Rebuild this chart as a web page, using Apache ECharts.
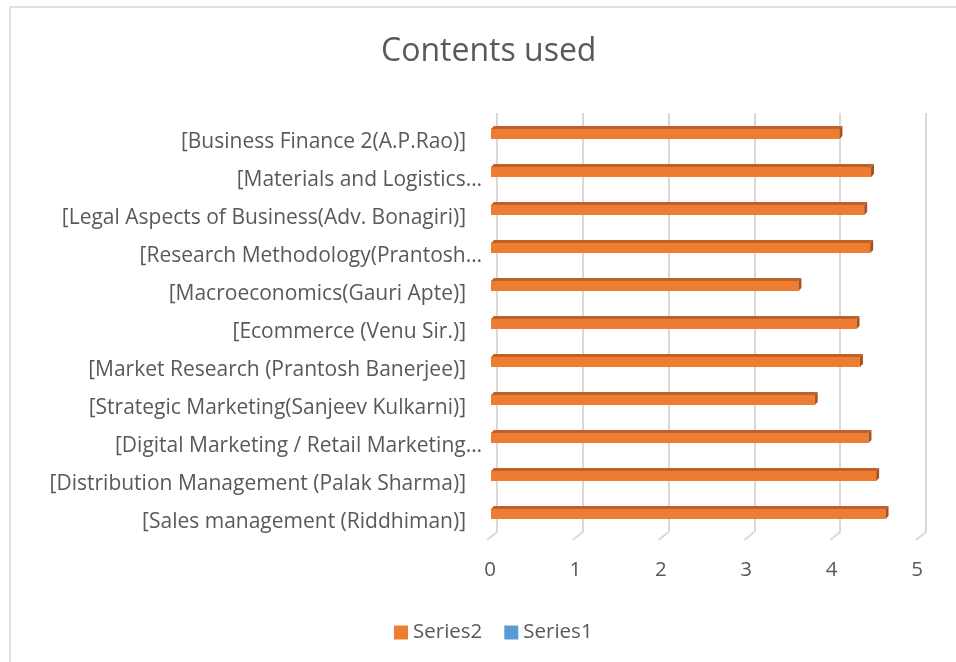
<!DOCTYPE html>
<html>
<head>
<meta charset="utf-8">
<script src="https://cdn.jsdelivr.net/npm/echarts@6/dist/echarts.min.js"></script>
<style>
  html, body { margin: 0; padding: 0; background: #fff; }
  #main { width: 956px; height: 662px; }
</style>
</head>
<body>
<div id="main"></div>
<script>
// categories, bottom to top (same order as the Excel sheet)
var courses = [
  '[Sales management (Riddhiman)]',
  '[Distribution Management (Palak Sharma)]',
  '[Digital Marketing / Retail Marketing…',
  '[Strategic Marketing(Sanjeev Kulkarni)]',
  '[Market Research (Prantosh Banerjee)]',
  '[Ecommerce (Venu Sir.)]',
  '[Macroeconomics(Gauri Apte)]',
  '[Research Methodology(Prantosh…',
  '[Legal Aspects of Business(Adv. Bonagiri)]',
  '[Materials and Logistics…',
  '[Business Finance 2(A.P.Rao)]'
];
var series2 = [4.62, 4.51, 4.42, 3.79, 4.32, 4.28, 3.60, 4.44, 4.37, 4.45, 4.08];
var series1 = [0, 0, 0, 0, 0, 0, 0, 0, 0, 0, 0];
var xTicks = [0, 1, 2, 3, 4, 5];

var txt = '#595959';
var font = '"Open Sans"';
var fs = 20.5;

var chart = echarts.init(document.getElementById('main'), null, { renderer: 'canvas' });

// bar with a little depth, like excel's 3d bars
function bar3d(params, api) {
  var v = api.value(0);
  var c = api.value(1);
  var p0 = api.coord([0, c]);
  var p1 = api.coord([v, c]);
  var x0 = p0[0] + 1, x1 = p1[0] + 1;
  var yT = p0[1] - 3, yB = p0[1] + 7;
  var dx = 3, dy = -3;
  return {
    type: 'group',
    children: [
      { type: 'rect', shape: { x: x0, y: yT, width: x1 - x0, height: yB - yT },
        style: { fill: '#ED7D31' } },
      { type: 'polygon', shape: { points: [[x0, yT], [x1, yT], [x1 + dx, yT + dy], [x0 + dx, yT + dy]] },
        style: { fill: '#C0612A' } },
      { type: 'polygon', shape: { points: [[x1, yT], [x1 + dx, yT + dy], [x1 + dx, yB + dy], [x1, yB]] },
        style: { fill: '#A8521F' } }
    ]
  };
}

// little slanted feet under the back gridlines
function gridFoot(params, api) {
  var p = api.coord([api.value(0), 0]);
  return {
    type: 'line',
    shape: { x1: p[0], y1: p[1], x2: p[0] - 10, y2: p[1] + 8 },
    style: { stroke: '#d9d9d9', lineWidth: 2 }
  };
}

chart.setOption({
  animation: false,
  backgroundColor: '#fff',
  title: {
    text: 'Contents used',
    left: 376,
    top: 31,
    textStyle: { fontFamily: font, fontSize: 32, fontWeight: 'normal', color: txt }
  },
  graphic: [{
    type: 'rect', z: -10, silent: true,
    shape: { x: 10, y: 7, width: 960, height: 680 },
    style: { fill: null, stroke: '#d9d9d9', lineWidth: 1.5 }
  }],
  legend: {
    bottom: 14,
    left: 389,
    itemWidth: 14,
    itemHeight: 14,
    itemGap: 22,
    icon: 'rect',
    textStyle: { fontFamily: font, fontSize: fs, color: txt },
    data: [
      { name: 'Series2', itemStyle: { color: '#ED7D31' } },
      { name: 'Series1', itemStyle: { color: '#5B9BD5' } }
    ]
  },
  grid: [
    { left: 490, right: 39, top: 113, bottom: 131 },
    { left: 497, right: 30, top: 113, bottom: 130 }
  ],
  xAxis: [{
    gridIndex: 0, type: 'value', min: 0, max: 5, interval: 1,
    axisLine: { show: false }, axisTick: { show: false }, splitLine: { show: false },
    axisLabel: { margin: 29, fontFamily: font, fontSize: fs, color: txt }
  }, {
    gridIndex: 1, type: 'value', min: 0, max: 5, interval: 1,
    axisLine: { show: false }, axisTick: { show: false }, axisLabel: { show: false },
    splitLine: { show: true, lineStyle: { color: '#d9d9d9', width: 2 } }
  }],
  yAxis: [{
    gridIndex: 0, type: 'category', data: courses,
    axisLine: { show: false }, axisTick: { show: false },
    axisLabel: {
      margin: 8,
      formatter: function (v) {
        return v.slice(-1) === '…' ? '{e|' + v + '}' : '{n|' + v + '}';
      },
      rich: {
        n: { fontFamily: font, fontSize: 21, color: txt, padding: [20, 16, 0, 0] },
        e: { fontFamily: font, fontSize: 21, color: txt, padding: [20, 0, 0, 0] }
      }
    }
  }, {
    gridIndex: 1, type: 'value', min: 0, max: 1, show: false
  }],
  series: [{
    name: 'Series2',
    type: 'custom',
    xAxisIndex: 0, yAxisIndex: 0,
    itemStyle: { color: '#ED7D31' },
    encode: { x: 0, y: 1 },
    data: courses.map(function (c, i) { return [series2[i], c]; }),
    renderItem: bar3d,
    z: 5
  }, {
    name: 'Series1',
    type: 'bar',
    xAxisIndex: 0, yAxisIndex: 0,
    itemStyle: { color: '#5B9BD5' },
    barWidth: 10,
    data: series1
  }, {
    type: 'custom',
    xAxisIndex: 1, yAxisIndex: 1,
    silent: true,
    data: xTicks.map(function (t) { return [t]; }),
    renderItem: gridFoot,
    z: 1
  }]
});
</script>
</body>
</html>
